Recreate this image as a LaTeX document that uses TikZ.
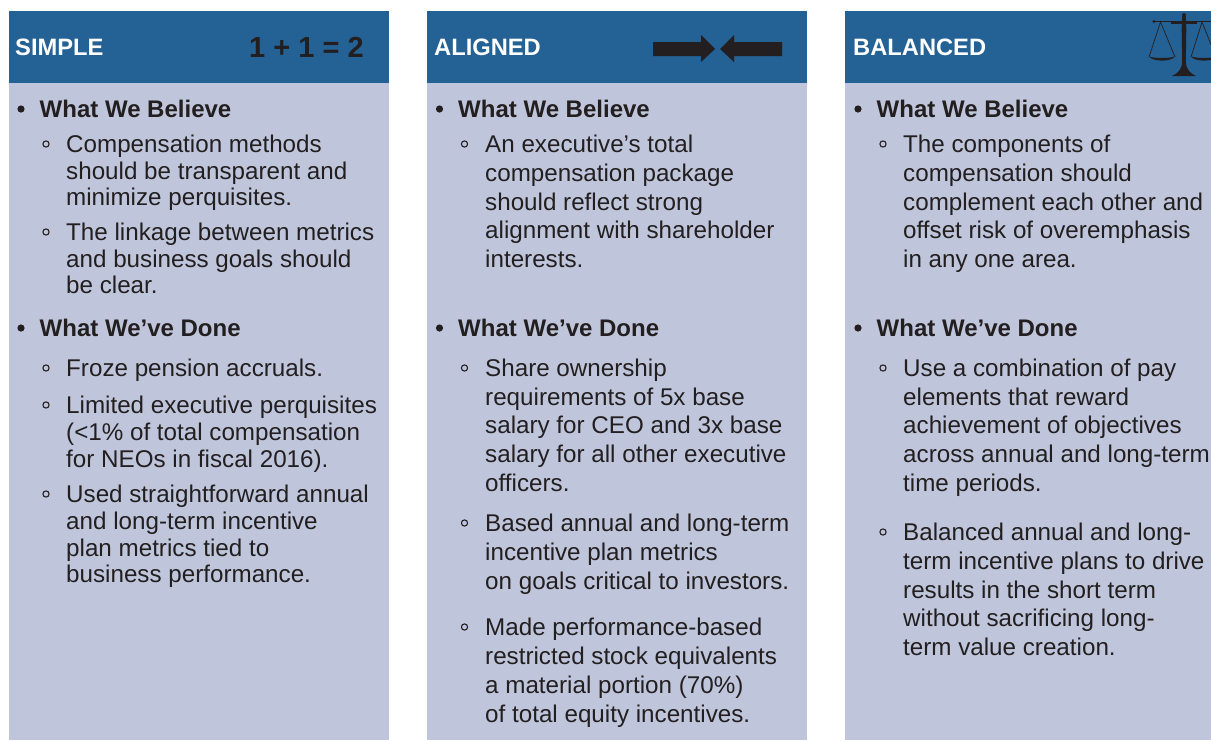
\documentclass[tikz,border=0pt]{standalone}
\usepackage{fontspec}
\setmainfont{Liberation Sans}
\definecolor{headblue}{HTML}{246194}
\definecolor{panelblue}{HTML}{BFC6DB}
\definecolor{ink}{HTML}{231F20}
\newcount\linecnt
\newcommand{\tln}[3]{\global\advance\linecnt by 1 \node[txt] (line\the\linecnt) at (#1,#2-0.8) {#3};}
\newcommand{\hdl}[3]{\global\advance\linecnt by 1 \node[txt,font=\fontsize{24}{28}\selectfont\bfseries] (line\the\linecnt) at (#1+39.5,#2) {#3};
  \fill[ink] (#1+21,#2-8) circle (3.6);}
\newcommand{\subb}[2]{\draw[ink,line width=1.1] (#1+46,#2-9) circle (3.1);}
\tikzset{
  txt/.style={anchor=base west,inner sep=0pt,text=ink,font=\fontsize{24.2}{28}\selectfont},
  title/.style={anchor=base west,inner sep=0pt,text=white,font=\fontsize{23.7}{28}\selectfont\bfseries},
  head/.style={fill=headblue},
  panel/.style={fill=panelblue}
}
\begin{document}
\begin{tikzpicture}[x=1pt,y=-1pt]
\useasboundingbox (0,0) rectangle (1211,740);
\clip (0,0) rectangle (1211,740);
% panels
\fill[panel] (9,83) rectangle (389,740);
\fill[panel] (427,83) rectangle (807,740);
\fill[panel] (845,83) rectangle (1211,740);
\fill[head] (9,11) rectangle (389,83);
\fill[head] (427,11) rectangle (807,83);
\fill[head] (845,11) rectangle (1211,83);
\node[title] (t1) at (15,55.5) {SIMPLE};
\node[title] (t2) at (434,55.5) {ALIGNED};
\node[title] (t3) at (853,55.5) {BALANCED};
\node[anchor=base west,inner sep=0pt,text=ink,font=\fontsize{29}{30}\selectfont\bfseries] (eq) at (249,57) {1 + 1 = 2};
% arrows
\fill[ink] (653,42) -- (701,42) -- (701,35) -- (715,49) -- (701,62) -- (701,56) -- (653,56) -- cycle;
\fill[ink] (782,42) -- (734,42) -- (734,35) -- (720,49) -- (734,62) -- (734,56) -- (782,56) -- cycle;
% scales
\draw[ink,line width=1.4] (1154,21.5) -- (1211,21.5);
\fill[ink] (1154,21.5) circle (1.6);
\fill[ink] (1171,20.5) -- (1197,20.5) -- (1197,23.5) -- (1171,23.5) -- cycle;
\fill[ink] (1184,15) circle (2);
\fill[ink] (1182.2,16) -- (1185.8,16) -- (1186.3,29) -- (1185.8,62) .. controls (1186.5,70) and (1190,73) .. (1196,76) -- (1172,76) .. controls (1178,73) and (1181.5,70) .. (1182.2,62) -- (1181.7,29) -- cycle;
\draw[ink,line width=0.7] (1149,57) -- (1160.5,22) -- (1175,57);
\draw[ink,line width=0.7] (1191,57) -- (1202,22) -- (1216,57);
\fill[ink] (1149,56.5) .. controls (1153,62) and (1171,62) .. (1175,56.5) .. controls (1168,58.5) and (1156,58.5) .. cycle;
\fill[ink] (1191,56.5) .. controls (1195,62) and (1213,62) .. (1217,56.5) .. controls (1210,58.5) and (1198,58.5) .. cycle;
% column 1
\hdl{0}{117}{What We Believe}
\subb{0}{153}
\tln{66}{153}{Compensation methods}
\tln{66}{180}{should be transparent and}
\tln{66}{206}{minimize perquisites.}
\subb{0}{241}
\tln{66}{241}{The linkage between metrics}
\tln{66}{268}{and business goals should}
\tln{66}{294}{be clear.}
\hdl{0}{336}{What We’ve Done}
\subb{0}{377}
\tln{66}{377}{Froze pension accruals.}
\subb{0}{414}
\tln{66}{414}{Limited executive perquisites}
\tln{66}{441}{(<1\% of total compensation}
\tln{66}{468}{for NEOs in fiscal 2016).}
\subb{0}{503}
\tln{66}{503}{Used straightforward annual}
\tln{66}{530}{and long-term incentive}
\tln{66}{557}{plan metrics tied to}
\tln{66}{583}{business performance.}
% column 2
\hdl{418.5}{117}{What We Believe}
\subb{418.5}{153}
\tln{485}{153}{An executive’s total}
\tln{485}{182}{compensation package}
\tln{485}{211}{should reflect strong}
\tln{485}{239}{alignment with shareholder}
\tln{485}{268}{interests.}
\hdl{418.5}{336}{What We’ve Done}
\subb{418.5}{377}
\tln{485}{377}{Share ownership}
\tln{485}{406}{requirements of 5x base}
\tln{485}{434}{salary for CEO and 3x base}
\tln{485}{463}{salary for all other executive}
\tln{485}{492}{officers.}
\subb{418.5}{532}
\tln{485}{532}{Based annual and long-term}
\tln{485}{561}{incentive plan metrics}
\tln{485}{590}{on goals critical to investors.}
\subb{418.5}{636}
\tln{485}{636}{Made performance-based}
\tln{485}{665}{restricted stock equivalents}
\tln{485}{694}{a material portion (70\%)}
\tln{485}{723}{of total equity incentives.}
% column 3
\hdl{837}{117}{What We Believe}
\subb{837}{153}
\tln{903}{153}{The components of}
\tln{903}{182}{compensation should}
\tln{903}{211}{complement each other and}
\tln{903}{239}{offset risk of overemphasis}
\tln{903}{268}{in any one area.}
\hdl{837}{336}{What We’ve Done}
\subb{837}{377}
\tln{903}{377}{Use a combination of pay}
\tln{903}{406}{elements that reward}
\tln{903}{434}{achievement of objectives}
\tln{903}{463}{across annual and long-term}
\tln{903}{492}{time periods.}
\subb{837}{541}
\tln{903}{541}{Balanced annual and long-}
\tln{903}{570}{term incentive plans to drive}
\tln{903}{599}{results in the short term}
\tln{903}{627}{without sacrificing long-}
\tln{903}{656}{term value creation.}
\end{tikzpicture}
\end{document}
